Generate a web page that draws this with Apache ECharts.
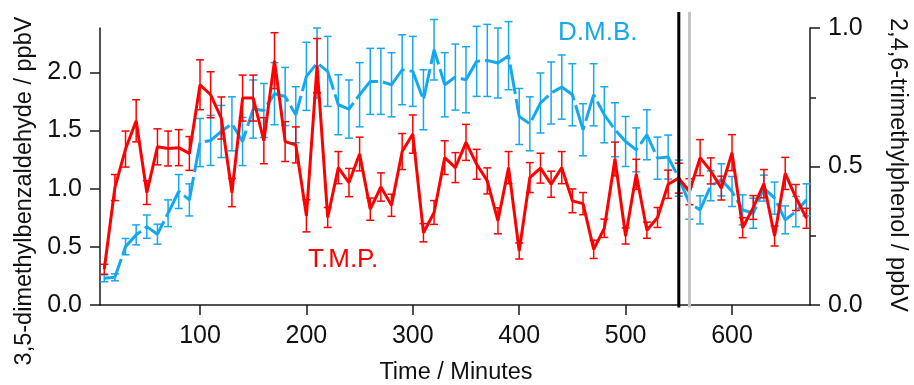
<!DOCTYPE html>
<html>
<head>
<meta charset="utf-8">
<script src="https://cdn.jsdelivr.net/npm/echarts@6/dist/echarts.min.js"></script>
<style>
html,body{margin:0;padding:0;background:#fff;}
#chart{width:914px;height:385px;}
</style>
</head>
<body>
<div id="chart"></div>
<script>
// ---- data ----
const minutes = [10,20,30,40,50,60,70,80,90,100,110,120,130,140,150,160,170,180,190,200,210,220,230,240,250,260,270,280,290,300,310,320,330,340,350,360,370,380,390,400,410,420,430,440,450,460,470,480,490,500,510,520,530,540,550,560,570,580,590,600,610,620,630,640,650,660,670];
// 3,5-dimethylbenzaldehyde (D.M.B.), ppbV, left axis
const dmbValues = [0.230,0.238,0.502,0.603,0.674,0.609,0.789,0.976,0.904,1.397,
  1.415,1.492,1.558,1.406,1.685,1.673,1.817,1.793,1.636,1.966,
  2.081,2.009,1.722,1.685,1.808,1.923,1.923,1.894,2.023,2.009,
  1.765,2.195,1.894,1.960,1.937,2.095,2.103,2.081,2.144,1.621,
  1.558,1.737,1.823,1.874,1.808,1.507,1.808,1.636,1.507,1.406,
  1.334,1.464,1.263,1.272,1.091,0.876,0.818,1.025,1.076,0.976,
  0.818,0.789,1.005,0.919,0.732,0.803,0.904];
const dmbErrors = [0.03,0.03,0.07,0.086,0.10,0.086,0.115,0.146,0.138,0.207,
  0.215,0.224,0.232,0.207,0.25,0.232,0.267,0.25,0.241,0.293,
  0.301,0.301,0.258,0.25,0.276,0.284,0.284,0.276,0.301,0.301,
  0.258,0.26,0.276,0.284,0.284,0.301,0.31,0.301,0.293,0.241,
  0.232,0.258,0.267,0.276,0.267,0.224,0.267,0.241,0.232,0.215,
  0.189,0.215,0.181,0.189,0.155,0.138,0.121,0.129,0.138,0.129,
  0.129,0.129,0.112,0.138,0.12,0.13,0.138];
// 2,4,6-trimethylphenol (T.M.P.), ppbV, right axis
const tmpValues = [0.129,0.424,0.563,0.665,0.406,0.571,0.565,0.568,0.547,0.795,
  0.759,0.675,0.406,0.747,0.747,0.593,0.882,0.590,0.578,0.322,
  0.864,0.316,0.496,0.442,0.545,0.346,0.426,0.360,0.554,0.617,
  0.261,0.334,0.532,0.496,0.587,0.508,0.448,0.304,0.496,0.195,
  0.460,0.494,0.436,0.496,0.376,0.366,0.201,0.277,0.527,0.249,
  0.472,0.270,0.316,0.436,0.458,0.409,0.532,0.484,0.422,0.550,
  0.279,0.352,0.438,0.249,0.475,0.388,0.313];
const tmpErrors = [0.018,0.047,0.065,0.076,0.043,0.065,0.063,0.065,0.061,0.090,
  0.083,0.076,0.051,0.083,0.083,0.083,0.101,0.072,0.065,0.058,
  0.098,0.036,0.058,0.051,0.061,0.040,0.051,0.040,0.065,0.069,
  0.033,0.043,0.061,0.054,0.065,0.054,0.047,0.047,0.058,0.029,
  0.054,0.054,0.047,0.058,0.043,0.040,0.033,0.033,0.061,0.029,
  0.054,0.029,0.036,0.051,0.054,0.047,0.065,0.047,0.043,0.065,
  0.036,0.043,0.051,0.036,0.058,0.047,0.036];
const markerMinutes = [550, 560];
const markerColors = ['#000000', '#c4c4c4'];
const xTicks = [100,200,300,400,500,600];
const leftTicks = [0,0.5,1.0,1.5,2.0];

// ---- styles ----
const BLUE = '#16a8ee';
const RED = '#ff0000';
const FONT = '"Liberation Sans", Arial, sans-serif';
const AX = '#1a1a1a';

const dmbLine = minutes.map((m, i) => [m, dmbValues[i]]);
const tmpLine = minutes.map((m, i) => [m, tmpValues[i]]);
const dmbErr = minutes.map((m, i) => [m, dmbValues[i] - dmbErrors[i], dmbValues[i] + dmbErrors[i]]);
const tmpErr = minutes.map((m, i) => [m, tmpValues[i] - tmpErrors[i], tmpValues[i] + tmpErrors[i]]);

function errRender(color) {
  return function (params, api) {
    const x = api.value(0);
    const lo = api.coord([x, api.value(1)]);
    const hi = api.coord([x, api.value(2)]);
    const cw = 4;
    const st = { stroke: color, lineWidth: 1.5 };
    return {
      type: 'group',
      children: [
        { type: 'line', shape: { x1: lo[0], y1: lo[1], x2: hi[0], y2: hi[1] }, style: st },
        { type: 'line', shape: { x1: lo[0] - cw, y1: lo[1], x2: lo[0] + cw, y2: lo[1] }, style: st },
        { type: 'line', shape: { x1: hi[0] - cw, y1: hi[1], x2: hi[0] + cw, y2: hi[1] }, style: st }
      ]
    };
  };
}

const chart = echarts.init(document.getElementById('chart'), null, { renderer: 'canvas' });
const tickLabel = { color: '#111', fontSize: 25, fontFamily: FONT };

chart.setOption({
  animation: false,
  backgroundColor: '#fff',
  grid: { left: 100, right: 104, top: 28, bottom: 80, containLabel: false },
  xAxis: {
    type: 'value', min: 6.0, max: 673.3, offset: 2.5,
    axisLine: { show: true, lineStyle: { color: AX, width: 1.5 } },
    axisTick: { show: true, length: 10, lineStyle: { color: AX, width: 1.5 }, customValues: xTicks },
    axisLabel: Object.assign({ margin: 16, customValues: xTicks }, tickLabel),
    splitLine: { show: false }
  },
  yAxis: [
    {
      type: 'value', min: 0, max: 2.382, position: 'left',
      axisLine: { show: true, lineStyle: { color: AX, width: 1.5 } },
      axisTick: { show: true, length: 10, lineStyle: { color: AX, width: 1.5 }, customValues: leftTicks },
      axisLabel: Object.assign({ margin: 18, customValues: leftTicks, formatter: v => v.toFixed(1) }, tickLabel),
      splitLine: { show: false }
    },
    {
      type: 'value', min: 0, max: 1.0, interval: 0.5, position: 'right',
      axisLine: { show: true, lineStyle: { color: AX, width: 1.5 } },
      axisTick: { show: true, length: 10, lineStyle: { color: AX, width: 1.5 } },
      minorTick: { show: true, splitNumber: 2, length: 6, lineStyle: { color: AX, width: 1.5 } },
      axisLabel: Object.assign({ margin: 18, formatter: v => v.toFixed(1) }, tickLabel),
      splitLine: { show: false }
    }
  ],
  graphic: [
    { type: 'text', x: 25, y: 191, rotation: Math.PI / 2,
      style: { text: '3,5-dimethylbenzaldehyde / ppbV', font: '23.5px ' + FONT, fill: '#111', align: 'center', verticalAlign: 'middle' } },
    { type: 'text', x: 897, y: 165, rotation: -Math.PI / 2,
      style: { text: '2,4,6-trimethylphenol / ppbV', font: '23.5px ' + FONT, fill: '#111', align: 'center', verticalAlign: 'middle' } },
    { type: 'text', x: 456, y: 373,
      style: { text: 'Time / Minutes', font: '23.5px ' + FONT, fill: '#111', align: 'center', verticalAlign: 'middle' } },
    { type: 'text', x: 558, y: 33,
      style: { text: 'D.M.B.', font: '26px ' + FONT, fill: BLUE, align: 'left', verticalAlign: 'middle' } },
    { type: 'text', x: 308, y: 260,
      style: { text: 'T.M.P.', font: '26px ' + FONT, fill: RED, align: 'left', verticalAlign: 'middle' } }
  ],
  series: [
    {
      name: 'DMB err', type: 'custom', yAxisIndex: 0, clip: false, silent: true,
      renderItem: errRender(BLUE), data: dmbErr, z: 2
    },
    {
      name: 'D.M.B.', type: 'line', yAxisIndex: 0, data: dmbLine, symbol: 'none',
      lineStyle: { color: BLUE, width: 3, type: [30, 5] }, z: 3
    },
    {
      name: 'TMP err', type: 'custom', yAxisIndex: 1, clip: false, silent: true,
      renderItem: errRender(RED), data: tmpErr, z: 4
    },
    {
      name: 'T.M.P.', type: 'line', yAxisIndex: 1, data: tmpLine, symbol: 'none',
      lineStyle: { color: RED, width: 3 }, z: 5
    },
    {
      name: 'markers', type: 'custom', yAxisIndex: 0, clip: false, silent: true, z: 6,
      data: markerMinutes.map((m, i) => [m, i]),
      renderItem: function (params, api) {
        const cs = params.coordSys;
        const x = api.coord([api.value(0), 0])[0];
        return {
          type: 'line',
          shape: { x1: x, y1: cs.y - 16, x2: x, y2: cs.y + cs.height + 2.5 },
          style: { stroke: markerColors[api.value(1)], lineWidth: 3 }
        };
      }
    }
  ]
});
</script>
</body>
</html>
